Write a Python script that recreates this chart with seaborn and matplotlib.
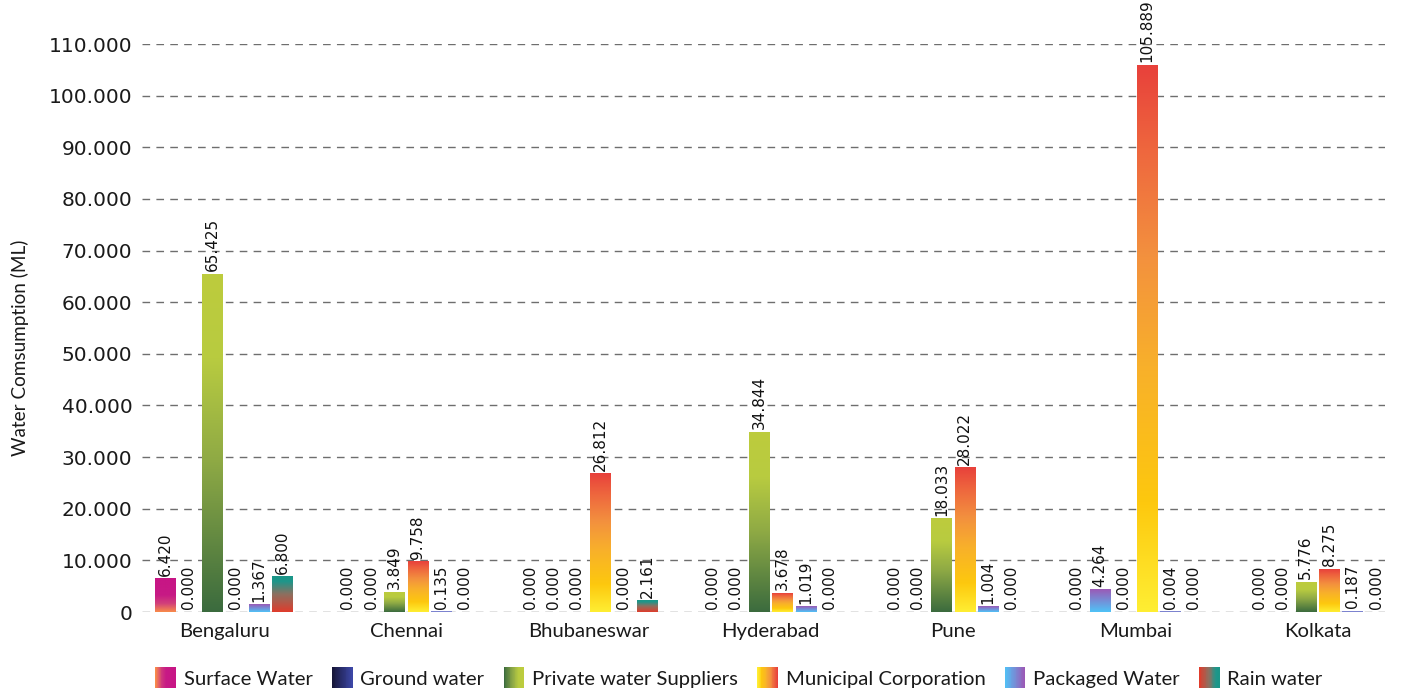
import numpy as np
import pandas as pd
import matplotlib
matplotlib.use("Agg")
import matplotlib.pyplot as plt
import seaborn as sns
from matplotlib.colors import LinearSegmentedColormap
from matplotlib.legend_handler import HandlerBase
from matplotlib.patches import Rectangle
from matplotlib.ticker import FuncFormatter

cities = ["Bengaluru", "Chennai", "Bhubaneswar", "Hyderabad", "Pune", "Mumbai", "Kolkata"]
sources = ["Surface Water", "Ground water", "Private water Suppliers",
           "Municipal Corporation", "Packaged Water", "Rain water"]

# consumption in ML (thousands), one list per source, in city order
surface_water = [6.420, 0.000, 0.000, 0.000, 0.000, 0.000, 0.000]
ground_water = [0.000, 0.000, 0.000, 0.000, 0.000, 4.264, 0.000]
private_suppliers = [65.425, 3.849, 0.000, 34.844, 18.033, 0.000, 5.776]
municipal_corp = [0.000, 9.758, 26.812, 3.678, 28.022, 105.889, 8.275]
packaged_water = [1.367, 0.135, 0.000, 1.019, 1.004, 0.004, 0.187]
rain_water = [6.800, 0.000, 2.161, 0.000, 0.000, 0.000, 0.000]

# bottom -> top gradient stops per source
gradients = {
    "Surface Water": [(0, "#f98c4a"), (0.25, "#d2407a"), (0.5, "#c71a85"), (1, "#c71585")],
    "Ground water": [(0, "#161638"), (1, "#3c46a5")],
    "Private water Suppliers": [(0, "#3b6b3e"), (0.45, "#8faa45"), (0.75, "#b8cb40"), (1, "#bdcc3d")],
    "Municipal Corporation": [(0, "#ffee33"), (0.2, "#fdc80e"), (0.45, "#f8b02b"),
                              (0.65, "#f3913e"), (0.85, "#ee663e"), (1, "#e8413b")],
    "Packaged Water": [(0, "#4fc3f7"), (1, "#9b59b6")],
    "Rain water": [(0, "#e03c2c"), (0.5, "#8c7060"), (0.85, "#1e968a"), (1, "#1a9688")],
}
# the original draws Mumbai's ground water bar with the packaged colours
colour_override = {("Mumbai", "Ground water"): "Packaged Water"}

cmaps = {k: LinearSegmentedColormap.from_list(k, v) for k, v in gradients.items()}

df = pd.DataFrame({
    "city": cities,
    "Surface Water": surface_water,
    "Ground water": ground_water,
    "Private water Suppliers": private_suppliers,
    "Municipal Corporation": municipal_corp,
    "Packaged Water": packaged_water,
    "Rain water": rain_water,
}).melt(id_vars="city", var_name="source", value_name="value")


class GradientKey:
    def __init__(self, cmap):
        self.cmap = cmap


class GradientHandler(HandlerBase):
    def create_artists(self, legend, orig_handle, xdescent, ydescent,
                       width, height, fontsize, trans):
        n = 24
        side = width
        y0 = -ydescent + (height - side) / 2
        strips = []
        for i in range(n):
            r = Rectangle((-xdescent + i * side / n, y0), side / n + 0.3, side,
                          facecolor=orig_handle.cmap(i / (n - 1)), edgecolor="none",
                          transform=trans)
            strips.append(r)
        return strips


sns.set_style("white")
plt.rcParams["font.family"] = ["DejaVu Sans"]
label_font = "Lato"

fig = plt.figure(figsize=(14.01, 6.9), dpi=100)
ax = fig.add_axes([142 / 1401, 78 / 690, 1243 / 1401, 568 / 690])

sns.barplot(data=df, x="city", y="value", hue="source", order=cities, hue_order=sources,
            width=0.77, gap=0.13, errorbar=None, legend=False, ax=ax)

grad = np.linspace(0, 1, 256).reshape(-1, 1)
for source, container in zip(sources, ax.containers):
    for city, bar in zip(cities, container):
        bar.set_visible(False)
        h = bar.get_height()
        if h > 0:
            x0, w = bar.get_x(), bar.get_width()
            cmap = cmaps[colour_override.get((city, source), source)]
            ax.imshow(grad, extent=[x0, x0 + w, 0, h], aspect="auto", origin="lower",
                      cmap=cmap, zorder=2, interpolation="bilinear")
    ax.bar_label(container, fmt="%.3f", rotation=90, padding=2, fontsize=11, color="#111")

ax.set_xlim(-0.45, 6.37)
ax.set_ylim(0, 110)
ax.set_yticks(range(0, 111, 10))
ax.yaxis.set_major_formatter(FuncFormatter(lambda v, p: "0" if v == 0 else f"{int(v)}.000"))
ax.set_axisbelow(True)
ax.yaxis.grid(True, color="#6e6e6e", linestyle=(0, (5.5, 4.5)), linewidth=1)
ax.xaxis.grid(False)
for s in ax.spines.values():
    s.set_visible(False)
ax.tick_params(axis="y", length=0, pad=7, labelsize=14.5, labelcolor="#1a1a1a")
ax.tick_params(axis="x", length=0, pad=8, labelsize=14.6, labelcolor="#1a1a1a")
for t in ax.get_xticklabels():
    t.set_fontfamily(label_font)
ax.set_xlabel("")
ax.set_ylabel("")

fig.text(20 / 1401, 1 - 348 / 690, "Water Comsumption (ML)", rotation=90, ha="center",
         va="center", fontsize=13.6, fontfamily=label_font, color="#1a1a1a")

handles = [GradientKey(cmaps[s]) for s in sources]
fig.legend(handles, sources, handler_map={GradientKey: GradientHandler()},
           loc="center", bbox_to_anchor=(739 / 1401, 1 - 678 / 690), ncol=6, frameon=False,
           prop={"family": label_font, "size": 14.6}, labelcolor="#1a1a1a",
           handlelength=1.0, handleheight=1.0, handletextpad=0.4, columnspacing=0.95)

fig.savefig("out.png", dpi=100)
